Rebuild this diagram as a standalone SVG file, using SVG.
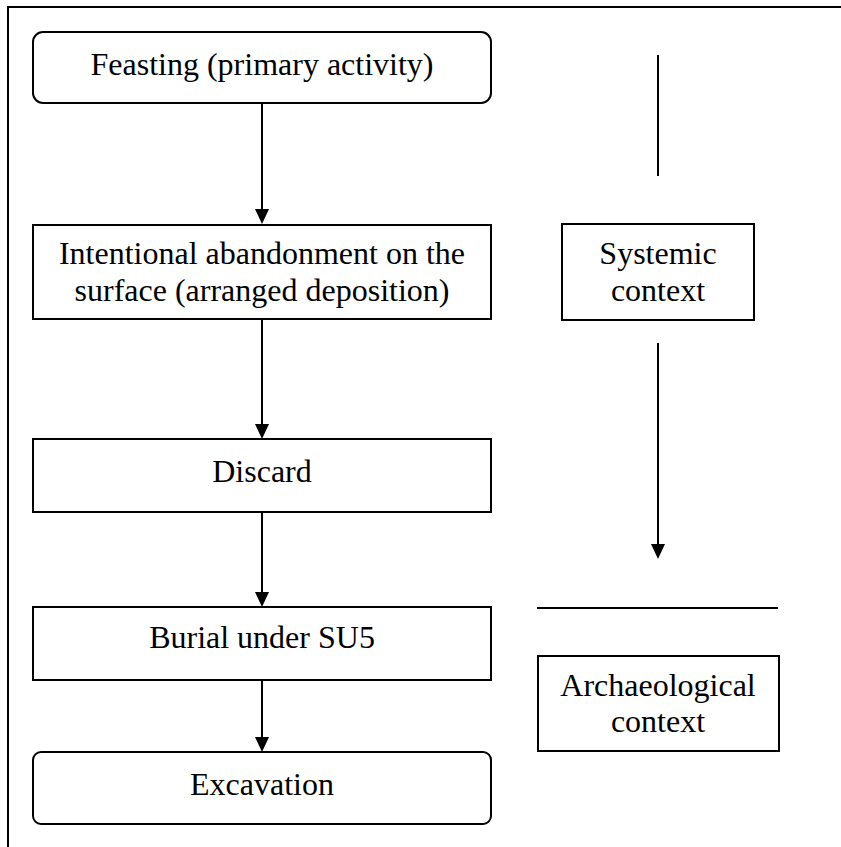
<svg xmlns="http://www.w3.org/2000/svg" width="841" height="847" viewBox="0 0 841 847">
<style>
.box{fill:#fff;stroke:#000;stroke-width:2}
.ln{stroke:#000;stroke-width:2;fill:none}
.t{font-family:"Liberation Serif","Times New Roman",serif;font-size:32px;fill:#000;text-anchor:middle}
</style>
<defs>
<marker id="ah" viewBox="0 0 15 14" markerWidth="15" markerHeight="14" refX="5" refY="7" orient="auto" markerUnits="userSpaceOnUse">
<path d="M0,0 L15,7 L0,14 z" fill="#000"/>
</marker>
</defs>
<rect width="841" height="847" fill="#fff"/>
<g id="frame">
<line class="ln" x1="8" y1="7" x2="841" y2="7"/>
<line class="ln" x1="8" y1="6" x2="8" y2="847"/>
</g>
<g id="connectors">
<line class="ln" x1="262" y1="103" x2="262" y2="214" marker-end="url(#ah)"/>
<line class="ln" x1="262" y1="319" x2="262" y2="429" marker-end="url(#ah)"/>
<line class="ln" x1="262" y1="512" x2="262" y2="597" marker-end="url(#ah)"/>
<line class="ln" x1="262" y1="680" x2="262" y2="742" marker-end="url(#ah)"/>
<line class="ln" x1="658" y1="55" x2="658" y2="176"/>
<line class="ln" x1="658" y1="343" x2="658" y2="549" marker-end="url(#ah)"/>
<line class="ln" x1="537" y1="608" x2="778" y2="608"/>
</g>
<g id="feasting">
<rect class="box" x="33" y="32" width="458" height="71" rx="10"/>
<text class="t" x="262" y="75">Feasting (primary activity)</text>
</g>
<g id="abandonment">
<rect class="box" x="33" y="225" width="458" height="94"/>
<text class="t" x="262" y="264">Intentional abandonment on the</text>
<text class="t" x="262" y="301">surface (arranged deposition)</text>
</g>
<g id="discard">
<rect class="box" x="33" y="439" width="458" height="73"/>
<text class="t" x="262" y="482">Discard</text>
</g>
<g id="burial">
<rect class="box" x="33" y="607" width="458" height="73"/>
<text class="t" x="262" y="648">Burial under SU5</text>
</g>
<g id="excavation">
<rect class="box" x="33" y="752" width="458" height="72" rx="8"/>
<text class="t" x="262" y="795">Excavation</text>
</g>
<g id="systemic">
<rect class="box" x="562" y="224" width="192" height="96"/>
<text class="t" x="658" y="264">Systemic</text>
<text class="t" x="658" y="301">context</text>
</g>
<g id="archaeological">
<rect class="box" x="538" y="656" width="241" height="95"/>
<text class="t" x="658" y="696">Archaeological</text>
<text class="t" x="658" y="732">context</text>
</g>
</svg>
